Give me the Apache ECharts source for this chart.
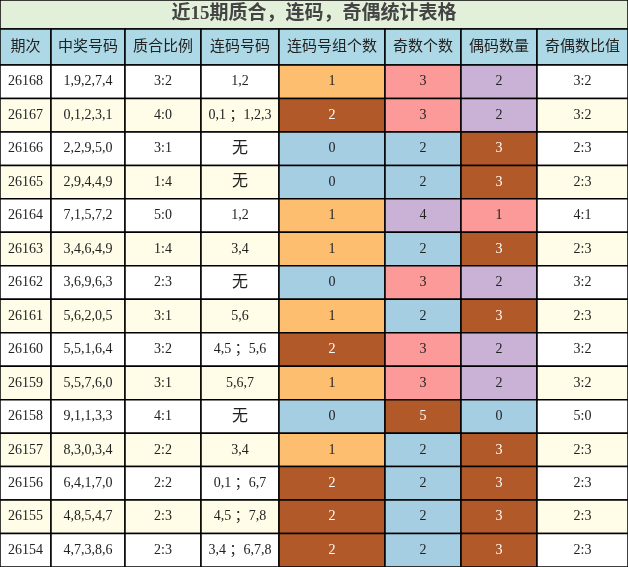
<!DOCTYPE html><html><head><meta charset="utf-8"><script src="https://cdn.jsdelivr.net/npm/echarts@6/dist/echarts.min.js"></script>
<style>html,body{margin:0;padding:0;background:#fff}#c{width:628px;height:567px}</style></head><body><div id="c"></div><script>
const title = "近15期质合，连码，奇偶统计表格";
const headers = ["期次","中奖号码","质合比例","连码号码","连码号组个数","奇数个数","偶码数量","奇偶数比值"];
const periods = ["26168","26167","26166","26165","26164","26163","26162","26161","26160","26159","26158","26157","26156","26155","26154"];
const numbers = ["1,9,2,7,4","0,1,2,3,1","2,2,9,5,0","2,9,4,4,9","7,1,5,7,2","3,4,6,4,9","3,6,9,6,3","5,6,2,0,5","5,5,1,6,4","5,5,7,6,0","9,1,1,3,3","8,3,0,3,4","6,4,1,7,0","4,8,5,4,7","4,7,3,8,6"];
const primeRatio = ["3:2","4:0","3:1","1:4","5:0","1:4","2:3","3:1","3:2","3:1","4:1","2:2","2:2","2:3","2:3"];
const consecutive = ["1,2","0,1 ；1,2,3","无","无","1,2","3,4","无","5,6","4,5 ；5,6","5,6,7","无","3,4","0,1 ；6,7","4,5 ；7,8","3,4 ；6,7,8"];
const groupCount = [1,2,0,0,1,1,0,1,2,1,0,1,2,2,2];
const oddCount = [3,3,2,2,4,2,3,2,3,3,5,2,2,2,2];
const evenCount = [2,2,3,3,1,3,2,3,2,2,0,3,3,3,3];
const oddEvenRatio = ["3:2","3:2","2:3","2:3","4:1","2:3","3:2","2:3","3:2","3:2","5:0","2:3","2:3","2:3","2:3"];

const colEdges=[0,51,125,201,279,385,461,537,628];
const titleH=29, headH=65, rowH=(567-65)/15;
const BLUE='#a6cee3',ORANGE='#fdbf6f',BROWN='#b15928',PINK='#fb9a99',PURPLE='#cab2d6';
const groupColor={0:BLUE,1:ORANGE,2:BROWN};
const oddColor={2:BLUE,3:PINK,4:PURPLE,5:BROWN};
const evenColor={0:BLUE,1:PINK,2:PURPLE,3:BROWN};
const cells=[];
cells.push([0,628,0,titleH,title,'#e2efd9','#444',19,'bold']);
headers.forEach((h,i)=>cells.push([colEdges[i],colEdges[i+1],titleH,headH,h,'#add8e6','#222',15,'normal']));
periods.forEach((p,r)=>{
  const y0=headH+r*rowH,y1=y0+rowH,bg=r%2?'#fffde8':'#ffffff';
  const cols=[[p,bg],[numbers[r],bg],[primeRatio[r],bg],[consecutive[r],bg],
    [String(groupCount[r]),groupColor[groupCount[r]]],[String(oddCount[r]),oddColor[oddCount[r]]],
    [String(evenCount[r]),evenColor[evenCount[r]]],[oddEvenRatio[r],bg]];
  cols.forEach((c,i)=>cells.push([colEdges[i],colEdges[i+1],y0,y1,c[0],c[1],c[1]===BROWN?'#fff':'#222',c[0]==='无'?16:14,'normal']));
});
const chart=echarts.init(document.getElementById('c'));
chart.setOption({animation:false,
 grid:{left:0,right:0,top:0,bottom:0},
 xAxis:{type:'value',min:0,max:628,show:false},
 yAxis:{type:'value',min:0,max:567,inverse:true,show:false},
 series:[{type:'custom',data:cells,clip:false,
  renderItem:(params,api)=>{
   const d=cells[params.dataIndex];
   const p0=api.coord([d[0],d[2]]),p1=api.coord([d[1],d[3]]);
   return {type:'group',children:[
    {type:'rect',shape:{x:p0[0],y:p0[1],width:p1[0]-p0[0],height:p1[1]-p0[1]},style:{fill:d[5],stroke:'#000',lineWidth:1.5}},
    {type:'text',style:{text:d[4],x:(p0[0]+p1[0])/2,y:(p0[1]+p1[1])/2,align:'center',verticalAlign:'middle',fill:d[6],fontSize:d[7],fontWeight:d[8],fontFamily:'"Liberation Serif","Noto Sans CJK SC",serif'}}
   ]};
  }}]});
</script></body></html>
